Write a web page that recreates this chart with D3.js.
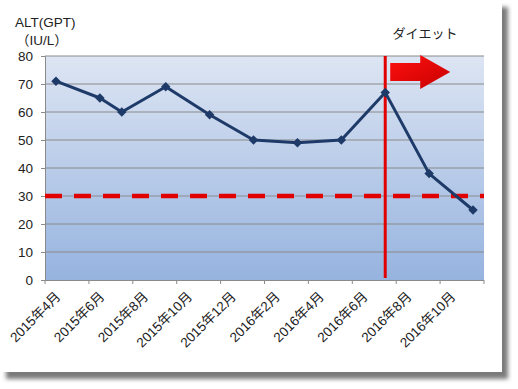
<!DOCTYPE html>
<html>
<head>
<meta charset="utf-8">
<script src="https://cdn.jsdelivr.net/npm/d3@7"></script>
<style>
  body { margin: 0; background: #fff; }
  text { font-family: "Liberation Sans", Arial, "Noto Sans CJK JP", sans-serif; fill: #222; }
</style>
</head>
<body>
<div id="chart"></div>
<script>
// 月（横軸の1目盛り＝1か月）
var months = ["2015-04","2015-05","2015-06","2015-07","2015-08","2015-09","2015-10","2015-11","2015-12","2016-01",
              "2016-02","2016-03","2016-04","2016-05","2016-06","2016-07","2016-08","2016-09","2016-10","2016-11"];
// ラベル（2か月ごと）
var labelMonths = ["2015-04","2015-06","2015-08","2015-10","2015-12","2016-02","2016-04","2016-06","2016-08","2016-10"];
var labelText = ["2015年4月","2015年6月","2015年8月","2015年10月","2015年12月","2016年2月","2016年4月","2016年6月","2016年8月","2016年10月"];
// 測定値
var pointMonths = ["2015-04","2015-06","2015-07","2015-09","2015-11","2016-01","2016-03","2016-05","2016-07","2016-09","2016-11"];
var altValues = [71, 65, 60, 69, 59, 50, 49, 50, 67, 38, 25];
var yTicks = [0, 10, 20, 30, 40, 50, 60, 70, 80];
var targetValue = 30;
var dietMonth = "2016-07";

var W = 518, H = 389;
var pLeft = 45, pRight = 484, pTop = 56, pBottom = 280;

var svg = d3.select("#chart").append("svg")
  .attr("width", W)
  .attr("height", H);

var defs = svg.append("defs");
var sh = defs.append("filter").attr("id", "shadow")
  .attr("x", "-5%").attr("y", "-5%").attr("width", "115%").attr("height", "115%");
sh.append("feGaussianBlur").attr("stdDeviation", 2);

var bg = defs.append("linearGradient").attr("id", "plotbg")
  .attr("x1", 0).attr("y1", 0).attr("x2", 0).attr("y2", 1);
bg.append("stop").attr("offset", "0%").attr("stop-color", "#dde5f3");
bg.append("stop").attr("offset", "100%").attr("stop-color", "#96b3df");

var ag = defs.append("linearGradient").attr("id", "arrowbg")
  .attr("x1", 0).attr("y1", 0).attr("x2", 1).attr("y2", 1);
ag.append("stop").attr("offset", "0%").attr("stop-color", "#ff1010");
ag.append("stop").attr("offset", "100%").attr("stop-color", "#c80000");

// カードと影
svg.append("rect")
  .attr("x", 6).attr("y", 7)
  .attr("width", 502).attr("height", 372)
  .attr("fill", "#7a7a7a")
  .attr("filter", "url(#shadow)");
svg.append("rect")
  .attr("x", 0).attr("y", 0)
  .attr("width", 502).attr("height", 372)
  .attr("fill", "#fff");

var x = d3.scaleBand()
  .domain(months)
  .range([pLeft, pRight]);

var y = d3.scaleLinear()
  .domain([0, 80])
  .range([pBottom, pTop]);

function cx(m) { return x(m) + x.bandwidth() / 2; }

// プロットエリア
svg.append("rect")
  .attr("x", pLeft).attr("y", pTop)
  .attr("width", pRight - pLeft).attr("height", pBottom - pTop)
  .attr("fill", "url(#plotbg)");

// 目盛線
svg.append("g").selectAll("line")
  .data(yTicks.filter(function (d) { return d > 0; }))
  .enter().append("line")
  .attr("x1", pLeft).attr("x2", pRight)
  .attr("y1", function (d) { return y(d); })
  .attr("y2", function (d) { return y(d); })
  .attr("stroke", "#8a8a8a")
  .attr("stroke-width", 1);

// 縦軸
var yAxis = svg.append("g")
  .attr("transform", "translate(" + pLeft + ",0)")
  .call(d3.axisLeft(y).tickValues(yTicks).tickSize(4).tickPadding(8));
yAxis.select(".domain").attr("stroke", "#8a8a8a");
yAxis.selectAll(".tick line").attr("stroke", "#8a8a8a");
yAxis.selectAll("text").style("font-size", "13.5px").attr("fill", "#222");

// 横軸
var tickX = labelMonths.map(function (m) { return x(m); }).concat([pRight]);
svg.append("line")
  .attr("x1", pLeft).attr("x2", pRight)
  .attr("y1", pBottom + 0.5).attr("y2", pBottom + 0.5)
  .attr("stroke", "#8a8a8a");
svg.append("g").selectAll("line")
  .data(tickX)
  .enter().append("line")
  .attr("x1", function (d) { return d; })
  .attr("x2", function (d) { return d; })
  .attr("y1", pBottom).attr("y2", pBottom + 4)
  .attr("stroke", "#8a8a8a");

svg.append("g").selectAll("text")
  .data(labelMonths)
  .enter().append("text")
  .attr("transform", function (d) { return "translate(" + (cx(d) + 2) + "," + 294 + ") rotate(-45)"; })
  .attr("text-anchor", "end")
  .attr("dy", "0.35em")
  .style("font-size", "13.5px")
  .text(function (d, i) { return labelText[i]; });

// 目標値（破線）
svg.append("line")
  .attr("x1", pLeft).attr("x2", pRight)
  .attr("y1", y(targetValue)).attr("y2", y(targetValue))
  .attr("stroke", "#e00000")
  .attr("stroke-width", 4.5)
  .attr("stroke-dasharray", "17 12");

// ダイエット開始の縦線
svg.append("line")
  .attr("x1", cx(dietMonth)).attr("x2", cx(dietMonth))
  .attr("y1", pTop).attr("y2", pBottom - 2)
  .attr("stroke", "#e00000")
  .attr("stroke-width", 3);

// データ系列
var pts = pointMonths.map(function (m, i) { return { m: m, v: altValues[i] }; });
var line = d3.line()
  .x(function (d) { return cx(d.m); })
  .y(function (d) { return y(d.v); });

svg.append("path")
  .datum(pts)
  .attr("d", line)
  .attr("fill", "none")
  .attr("stroke", "#1d3a68")
  .attr("stroke-width", 3)
  .attr("stroke-linejoin", "round");

svg.append("g").selectAll("path")
  .data(pts)
  .enter().append("path")
  .attr("d", d3.symbol().type(d3.symbolSquare).size(45))
  .attr("transform", function (d) { return "translate(" + cx(d.m) + "," + y(d.v) + ") rotate(45)"; })
  .attr("fill", "#1d3a68");

// 矢印
var arrowX = d3.scaleLinear().domain([0, 1]).range([cx(dietMonth) + 5, cx(dietMonth) + 65]);
var arrowPts = [[0, 63], [0.5, 63], [0.5, 55], [1, 72], [0.5, 89], [0.5, 81], [0, 81]];
svg.append("path")
  .attr("d", d3.line().x(function (d) { return arrowX(d[0]); }).y(function (d) { return d[1]; })(arrowPts) + "Z")
  .attr("fill", "url(#arrowbg)");

svg.append("text")
  .attr("x", 425).attr("y", 38)
  .attr("text-anchor", "middle")
  .style("font-size", "13px")
  .text("ダイエット");

// 縦軸タイトル
svg.append("text")
  .attr("x", 15).attr("y", 27)
  .style("font-size", "13.5px")
  .text("ALT(GPT)");
svg.append("text")
  .attr("x", 16).attr("y", 45)
  .style("font-size", "13.5px")
  .text("（IU/L）");
</script>
</body>
</html>
